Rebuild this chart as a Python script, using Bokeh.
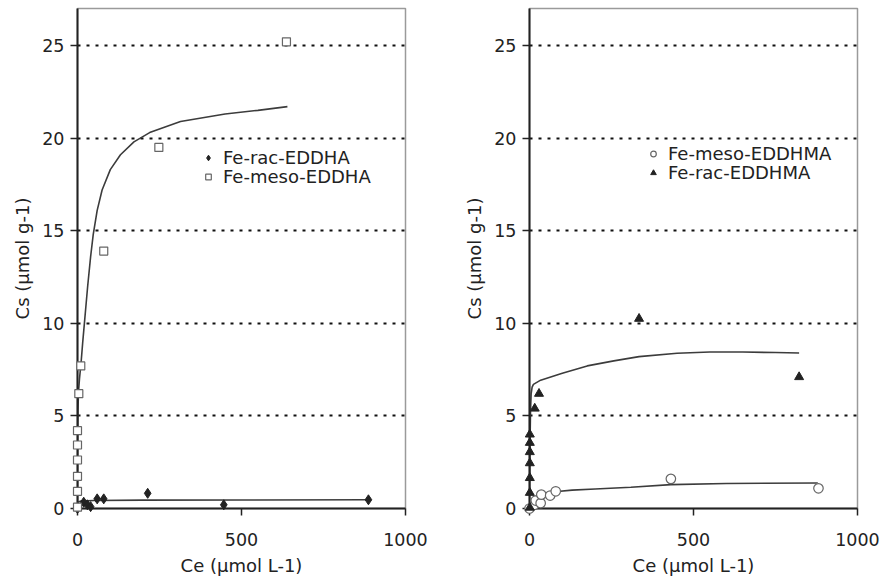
from bokeh.plotting import figure
from bokeh.models import Range1d, FixedTicker, Legend, LegendItem
from bokeh.layouts import row
from bokeh.embed import file_html
from bokeh.resources import INLINE

# ---------------- data ----------------
# Left panel
rac_eddha_ce = [0, 19, 30, 40, 60, 80, 214, 446, 887]
rac_eddha_cs = [0.0, 0.34, 0.2, 0.1, 0.52, 0.52, 0.82, 0.2, 0.47]
meso_eddha_ce = [0, 0, 0, 0, 0, 0, 4, 10, 80, 248, 637]
meso_eddha_cs = [0.07, 0.93, 1.74, 2.62, 3.43, 4.2, 6.2, 7.7, 13.9, 19.5, 25.2]
fit_rac_eddha_ce = [0, 1, 3, 10, 50, 200, 500, 887]
fit_rac_eddha_cs = [0.0, 0.2, 0.35, 0.4, 0.43, 0.45, 0.46, 0.47]
fit_meso_eddha_ce = [0, 0.3, 0.7, 1.5, 3, 6, 11, 16, 21, 26, 31, 40, 48, 60, 75, 100,
                     131, 172, 220, 314, 450, 550, 640]
fit_meso_eddha_cs = [0.0, 2.0, 3.8, 5.3, 6.3, 7.0, 7.9, 9.0, 10.0, 11.0, 12.0, 13.6, 14.8,
                     16.1, 17.2, 18.3, 19.1, 19.8, 20.3, 20.9, 21.3, 21.5, 21.7]

# Right panel
meso_eddhma_ce = [0, 15, 19, 34, 36, 63, 80, 431, 881]
meso_eddhma_cs = [0.0, 0.2, 0.43, 0.29, 0.75, 0.7, 0.93, 1.6, 1.09]
rac_eddhma_ce = [1, 1, 1, 1, 1, 1, 1, 16, 29, 334, 822]
rac_eddhma_cs = [0.05, 0.85, 1.65, 2.45, 3.05, 3.55, 4.0, 5.4, 6.2, 10.25, 7.1]
fit_meso_eddhma_ce = [0, 5, 13, 25, 40, 60, 85, 130, 200, 309, 431, 600, 879]
fit_meso_eddhma_cs = [0.0, 0.3, 0.6, 0.72, 0.8, 0.87, 0.92, 0.99, 1.05, 1.15, 1.29, 1.35, 1.38]
fit_rac_eddhma_ce = [0, 1, 2, 3, 5, 8, 12, 34, 100, 176, 257, 334, 450, 550, 650, 750, 822]
fit_rac_eddhma_cs = [0.0, 2.0, 4.0, 5.2, 6.2, 6.55, 6.7, 6.93, 7.3, 7.7, 7.97, 8.2, 8.38, 8.45, 8.45, 8.42, 8.4]

x_ticks = [0, 500, 1000]
y_ticks = [0, 5, 10, 15, 20, 25]
x_label = "Ce (µmol L-1)"
y_label = "Cs (µmol g-1)"

FONT = "DejaVu Sans"
TXT = "#222222"
CURVE = "#3c3c3c"


def make_panel(width, left_border, right_border):
    p = figure(width=width, height=581, x_range=Range1d(0, 1000), y_range=Range1d(0, 27),
               output_backend="svg", toolbar_location=None,
               min_border_left=left_border, min_border_right=right_border,
               min_border_top=8, min_border_bottom=73)
    p.background_fill_color = "white"
    p.border_fill_color = "white"
    p.outline_line_color = "#9a9a9a"
    p.outline_line_width = 1.5
    p.xgrid.grid_line_color = None
    p.ygrid.ticker = FixedTicker(ticks=y_ticks[1:])
    p.ygrid.grid_line_color = "#111111"
    p.ygrid.grid_line_width = 2
    p.ygrid.grid_line_dash = "3 6"
    p.xaxis.ticker = FixedTicker(ticks=x_ticks)
    p.yaxis.ticker = FixedTicker(ticks=y_ticks)
    for ax in (p.xaxis[0], p.yaxis[0]):
        ax.axis_line_color = "#222222"
        ax.axis_line_width = 2
        ax.major_tick_line_color = "#222222"
        ax.major_tick_line_width = 1.5
        ax.major_tick_in = 0
        ax.major_tick_out = 7
        ax.minor_tick_line_color = None
        ax.major_label_text_font = FONT
        ax.major_label_text_font_size = "17.5px"
        ax.major_label_text_color = TXT
        ax.axis_label_text_font = FONT
        ax.axis_label_text_font_size = "18px"
        ax.axis_label_text_font_style = "normal"
        ax.axis_label_text_color = TXT
    p.xaxis.axis_label = x_label
    p.yaxis.axis_label = y_label
    p.xaxis.major_label_standoff = 17
    p.xaxis.axis_label_standoff = 6
    p.yaxis.major_label_standoff = 6
    p.yaxis.axis_label_standoff = 6
    return p


def add_legend_row(p, label, renderer, x, y):
    leg = Legend(items=[LegendItem(label=label, renderers=[renderer])], location=(x, y),
                 label_text_font=FONT, label_text_font_size="18px", label_text_color=TXT,
                 glyph_width=14, glyph_height=19, label_height=19, label_standoff=8,
                 spacing=0, padding=0, margin=0,
                 border_line_color=None, background_fill_alpha=0)
    p.add_layout(leg, "center")


# ---------------- left panel ----------------
p1 = make_panel(460, 77, 55)
p1.line(fit_meso_eddha_ce, fit_meso_eddha_cs, line_color=CURVE, line_width=1.6)
p1.line(fit_rac_eddha_ce, fit_rac_eddha_cs, line_color=CURVE, line_width=1.6)
r_rac = p1.scatter(rac_eddha_ce, rac_eddha_cs, marker="diamond", size=10,
                   fill_color="#222222", line_color="#222222", level="overlay")
r_meso = p1.scatter(meso_eddha_ce, meso_eddha_cs, marker="square", size=8,
                    fill_color="white", line_color="#666666", line_width=1.2, level="overlay")
add_legend_row(p1, "Fe-rac-EDDHA", r_rac, 124, 340)
add_legend_row(p1, "Fe-meso-EDDHA", r_meso, 124, 321)

# ---------------- right panel ----------------
p2 = make_panel(422, 69, 25)
p2.line(fit_rac_eddhma_ce, fit_rac_eddhma_cs, line_color=CURVE, line_width=1.6)
p2.line(fit_meso_eddhma_ce, fit_meso_eddhma_cs, line_color=CURVE, line_width=1.6)
r_meso2 = p2.scatter(meso_eddhma_ce, meso_eddhma_cs, marker="circle", size=9.5,
                     fill_color="white", line_color="#666666", line_width=1.2, level="overlay")
r_rac2 = p2.scatter(rac_eddhma_ce, rac_eddhma_cs, marker="triangle", size=9,
                    fill_color="#222222", line_color="#222222", level="overlay")
add_legend_row(p2, "Fe-meso-EDDHMA", r_meso2, 117, 344)
add_legend_row(p2, "Fe-rac-EDDHMA", r_rac2, 117, 325)

layout = row(p1, p2)
open("out.html", "w").write(file_html(layout, INLINE))
